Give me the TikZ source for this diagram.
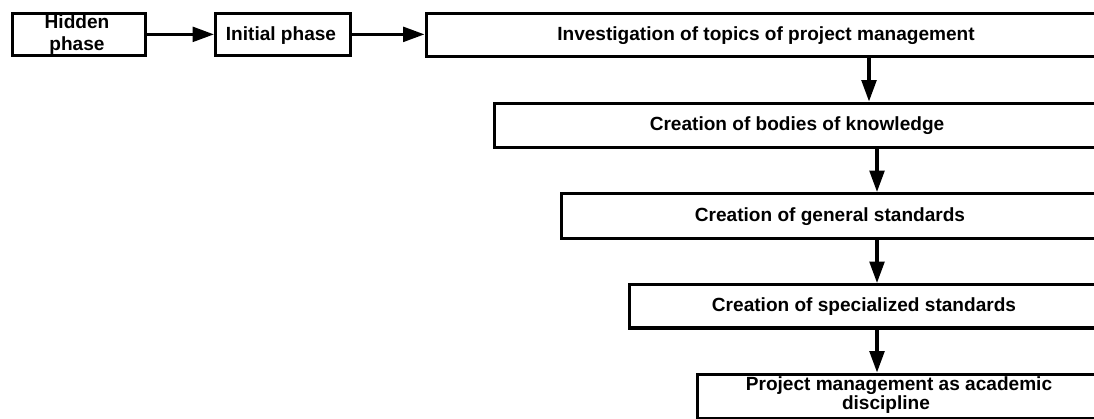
\documentclass[tikz,border=0pt]{standalone}
\usepackage{fontspec}
\setmainfont{Liberation Sans}
\usetikzlibrary{arrows.meta}
\begin{document}
\begin{tikzpicture}[x=0.75pt,y=-0.75pt,
  box/.style={draw, line width=2.4pt, inner sep=0pt, anchor=north west},
  lbl/.style={font=\bfseries\fontsize{14.3}{15}\selectfont, align=center, inner sep=0pt, anchor=base},
  flow/.style={line width=2.4pt, -{Triangle[length=16pt,width=11pt]}}]
\useasboundingbox (0,0) rectangle (1094,418);

% phase boxes (the long ones run past the right margin)
\node[box, minimum width=100.1pt, minimum height=31.9pt] (hid) at (10.5,11.5) {};
\node[box, minimum width=100.9pt, minimum height=31.9pt] (ini) at (214,11.5) {};
\node[box, minimum width=510pt, minimum height=32.3pt] (inv) at (424.5,11.5) {};
\node[box, minimum width=460pt, minimum height=33pt] (bod) at (492.5,101.5) {};
\node[box, minimum width=420pt, minimum height=33.4pt] (gen) at (560,192) {};
\node[box, minimum width=370pt, minimum height=32.6pt] (spe) at (627.5,283) {};
\node[box, minimum width=320pt, minimum height=33pt] (aca) at (695.5,372.5) {};

% labels, placed by their baselines
\node[lbl] (thid) at (77,28.5) {Hidden};
\node[lbl] (thid2) at (77,50) {phase};
\node[lbl] (tini) at (281,40) {Initial phase};
\node[lbl] (tinv) at (766,40) {Investigation of topics of project management};
\node[lbl] (tbod) at (797,130.5) {Creation of bodies of knowledge};
\node[lbl] (tgen) at (830,221.3) {Creation of general standards};
\node[lbl] (tspe) at (864,311.5) {Creation of specialized standards};
\node[lbl] (taca) at (899,390) {Project management as academic};
\node[lbl] (taca2) at (886,409) {discipline};

% connectors
\coordinate (xa) at (869,0);
\coordinate (xb) at (877,0);
\draw[flow] (hid.east) -- (ini.west);
\draw[flow] (ini.east) -- (ini.east -| inv.west);
\draw[flow] (inv.south -| xa) -- (bod.north -| xa);
\draw[flow] (bod.south -| xb) -- (gen.north -| xb);
\draw[flow] (gen.south -| xb) -- (spe.north -| xb);
\draw[flow] (spe.south -| xb) -- (aca.north -| xb);
\end{tikzpicture}
\end{document}
